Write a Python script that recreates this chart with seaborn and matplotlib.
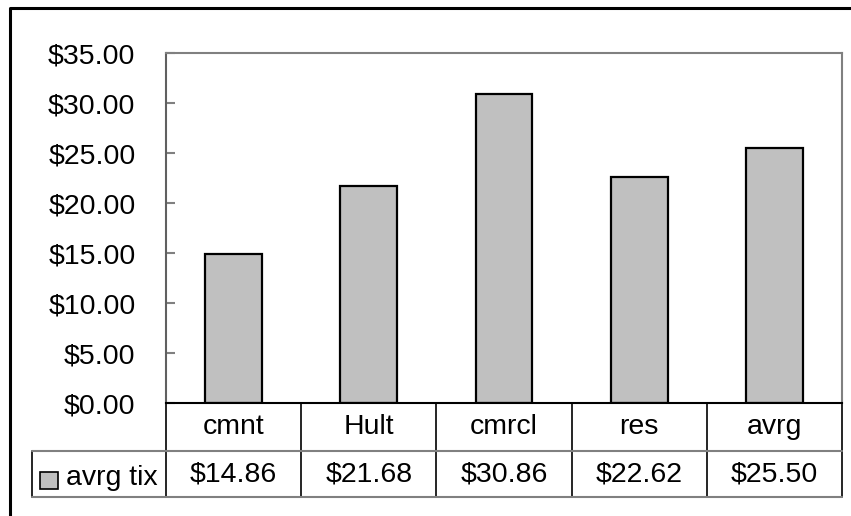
import matplotlib
matplotlib.use("Agg")
import matplotlib.pyplot as plt
import matplotlib.patches as mpatches
import seaborn as sns
import pandas as pd

# data
categories = ["cmnt", "Hult", "cmrcl", "res", "avrg"]
avrg_tix = [14.86, 21.68, 30.86, 22.62, 25.50]
series_name = "avrg tix"
yticks = [0, 5, 10, 15, 20, 25, 30, 35]

df = pd.DataFrame({"cat": categories, "val": avrg_tix})

sns.set_style("white")
plt.rcParams["font.family"] = ["Liberation Sans", "DejaVu Sans"]
plt.rcParams["text.color"] = "black"
plt.rcParams["ytick.labelcolor"] = "black"

FS = 20.5
W, H = 851, 516
fig = plt.figure(figsize=(W / 100, H / 100), dpi=100)
# plot area in pixels: x 166..842, y 53..403
ax = fig.add_axes([166 / W, (H - 403) / H, 676 / W, 350 / H])

sns.barplot(data=df, x="cat", y="val", color="#C0C0C0", edgecolor="black",
            linewidth=1.6, width=0.42, saturation=1, ax=ax)

ax.set_xlim(-0.5, len(categories) - 0.5)
ax.set_ylim(0, 35)
ax.set_yticks(yticks)
ax.set_yticklabels([f"${t:.2f}" for t in yticks], fontsize=FS, color="black")
ax.tick_params(axis="y", direction="in", length=6.5, width=1.5, color="#808080",
               pad=22, left=True)
ax.set_xticks([])
ax.set_xlabel("")
ax.set_ylabel("")

for side in ["top", "right"]:
    ax.spines[side].set_color("#808080")
    ax.spines[side].set_linewidth(1.5)
ax.spines["left"].set_color("#606060")
ax.spines["left"].set_linewidth(1.5)
ax.spines["bottom"].set_color("black")
ax.spines["bottom"].set_linewidth(1.5)

# data table below the axes
r1 = -48 / 350
r2 = -94 / 350
n = len(categories)
tr = ax.get_xaxis_transform()
lab_left = -1.49

for i in range(n + 1):
    x = i - 0.5
    ax.plot([x, x], [0, r2], color="black", lw=1.2, transform=tr, clip_on=False)
ax.plot([lab_left, lab_left], [r1, r2], color="black", lw=1.2, transform=tr, clip_on=False)
for y in [r1, r2]:
    ax.plot([lab_left, n - 0.5], [y, y], color="#808080", lw=1.5, transform=tr, clip_on=False)

for i, (c, v) in enumerate(zip(categories, avrg_tix)):
    ax.text(i, r1 / 2, c, ha="center", va="center", fontsize=FS, transform=tr)
    ax.text(i, (r1 + r2) / 2, f"${v:.2f}", ha="center", va="center", fontsize=FS, transform=tr)

# legend key in the row label cell
fig.patches.append(mpatches.Rectangle((40 / W, (H - 489) / H), 18 / W, 17 / H,
                                      transform=fig.transFigure, facecolor="#C0C0C0",
                                      edgecolor="black", lw=1.2))
fig.text(66 / W, (H - 478) / H, series_name, ha="left", va="center", fontsize=FS)

# outer chart frame (left and top edges visible)
fig.add_artist(plt.Line2D([10 / W, 10 / W, 1.01], [-0.01, (H - 8) / H, (H - 8) / H],
                          color="black", lw=2.2, transform=fig.transFigure))

fig.savefig("out.png", dpi=100)
